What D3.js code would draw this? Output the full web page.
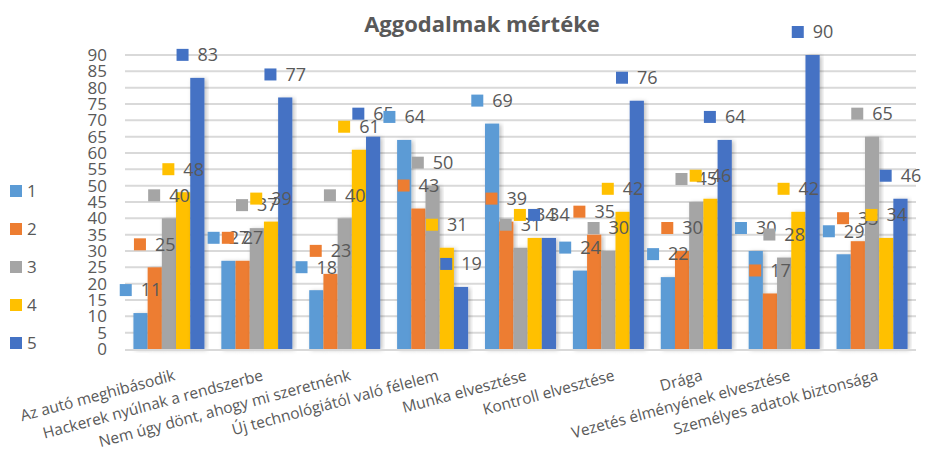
<!DOCTYPE html>
<html>
<head>
<meta charset="utf-8" />
<title>Aggodalmak mértéke</title>
<script src="https://d3js.org/d3.v7.min.js"></script>
<style>
    body {
        margin: 0;
        background-color: #ffffff;
    }
    text {
        font-family: 'Open Sans', sans-serif;
        fill: #595959;
    }
</style>
</head>
<body>
<svg id="chart"></svg>
<script>

    var categories = [
        "Az autó meghibásodik",
        "Hackerek nyúlnak a rendszerbe",
        "Nem úgy dönt, ahogy mi szeretnénk",
        "Új technológiától való félelem",
        "Munka elvesztése",
        "Kontroll elvesztése",
        "Drága",
        "Vezetés élményének elvesztése",
        "Személyes adatok biztonsága"
    ];
    var seriesNames = ["1", "2", "3", "4", "5"];
    var s1 = [11, 27, 18, 64, 69, 24, 22, 30, 29];
    var s2 = [25, 27, 23, 43, 39, 35, 30, 17, 33];
    var s3 = [40, 37, 40, 50, 31, 30, 45, 28, 65];
    var s4 = [48, 39, 61, 31, 34, 42, 46, 42, 34];
    var s5 = [83, 77, 65, 19, 34, 76, 64, 90, 46];
    var seriesValues = [s1, s2, s3, s4, s5];
    var colors = ["#5b9bd5", "#ed7d31", "#a5a5a5", "#ffc000", "#4472c4"];
    var yTicks = d3.range(0, 95, 5);

    var width = 926;
    var height = 451;
    var plot = { left: 125, right: 916, top: 55, bottom: 349 };

    var svg = d3.select("#chart")
        .attr("width", width)
        .attr("height", height);

    // soft shadow like the office chart
    var defs = svg.append("defs");
    defs.append("filter")
        .attr("id", "shadow")
        .attr("x", "-30%").attr("y", "-10%")
        .attr("width", "160%").attr("height", "120%")
        .append("feDropShadow")
        .attr("dx", 2).attr("dy", 1)
        .attr("stdDeviation", 2)
        .attr("flood-color", "#000")
        .attr("flood-opacity", 0.25);

    var x0 = d3.scaleBand()
        .domain(categories)
        .range([plot.left, plot.right])
        .padding(0);

    var step = x0.bandwidth();
    var groupW = step * 0.808;
    var x1 = d3.scaleBand()
        .domain(seriesNames)
        .range([(step - groupW) / 2, (step + groupW) / 2])
        .padding(0);

    var y = d3.scaleLinear()
        .domain([0, 90])
        .range([plot.bottom, plot.top]);

    // title
    svg.append("text")
        .attr("x", 482)
        .attr("y", 32)
        .attr("text-anchor", "middle")
        .attr("font-size", "22px")
        .attr("font-weight", 700)
        .text("Aggodalmak mértéke");

    // gridlines
    svg.append("g")
        .selectAll("line")
        .data(yTicks.filter(function(d) { return d > 0; }))
        .enter().append("line")
        .attr("x1", plot.left)
        .attr("x2", plot.right)
        .attr("y1", function(d) { return y(d); })
        .attr("y2", function(d) { return y(d); })
        .attr("stroke", "#d9d9d9")
        .attr("stroke-width", 2);

    // y axis labels
    var yAxis = d3.axisLeft(y)
        .tickValues(yTicks)
        .tickSize(0)
        .tickPadding(0);
    svg.append("g")
        .attr("transform", "translate(107,0)")
        .call(yAxis)
        .call(function(g) { g.select(".domain").remove(); })
        .selectAll("text")
        .attr("font-size", "17px")
        .attr("font-family", "'Open Sans', sans-serif")
        .attr("fill", "#595959");

    // bars
    var groups = svg.append("g")
        .selectAll("g")
        .data(categories)
        .enter().append("g")
        .attr("transform", function(d) { return "translate(" + x0(d) + ",0)"; });

    groups.selectAll("rect")
        .data(function(d, i) {
            return seriesNames.map(function(s, j) {
                return { series: s, idx: j, value: seriesValues[j][i] };
            });
        })
        .enter().append("rect")
        .attr("x", function(d) { return x1(d.series); })
        .attr("y", function(d) { return y(d.value); })
        .attr("width", x1.bandwidth())
        .attr("height", function(d) { return y(0) - y(d.value); })
        .attr("fill", function(d) { return colors[d.idx]; })
        .attr("filter", "url(#shadow)");

    // x axis line
    svg.append("line")
        .attr("x1", plot.left)
        .attr("x2", plot.right)
        .attr("y1", y(0) + 1)
        .attr("y2", y(0) + 1)
        .attr("stroke", "#d9d9d9")
        .attr("stroke-width", 2);

    // data labels with legend key
    var labels = svg.append("g");
    categories.forEach(function(c, i) {
        seriesNames.forEach(function(s, j) {
            var v = seriesValues[j][i];
            var cx = x0(c) + x1(s) + x1.bandwidth() / 2;
            var cy = y(v) - 23;
            var g = labels.append("g");
            var t = g.append("text")
                .attr("font-size", "18px")
                .attr("dy", "0.35em")
                .text(v);
            var tw = t.node().getComputedTextLength();
            var total = 12 + 9 + tw;
            var left = cx - total / 2;
            g.append("rect")
                .attr("x", left)
                .attr("y", cy - 6)
                .attr("width", 12)
                .attr("height", 12)
                .attr("fill", colors[j]);
            t.attr("x", left + 21).attr("y", cy);
        });
    });

    // x labels, rotated
    svg.append("g")
        .selectAll("text")
        .data(categories)
        .enter().append("text")
        .attr("text-anchor", "end")
        .attr("font-size", "15.5px")
        .attr("transform", function(d) {
            var cx = x0(d) + step / 2 + 7;
            return "translate(" + cx + ",380) rotate(-15)";
        })
        .text(function(d) { return d; });

    // legend
    var legend = svg.append("g")
        .selectAll("g")
        .data(seriesNames)
        .enter().append("g")
        .attr("transform", function(d, i) { return "translate(10," + (191 + i * 38) + ")"; });
    legend.append("rect")
        .attr("x", 0)
        .attr("y", -6)
        .attr("width", 12)
        .attr("height", 12)
        .attr("fill", function(d, i) { return colors[i]; });
    legend.append("text")
        .attr("x", 17)
        .attr("dy", "0.35em")
        .attr("font-size", "17px")
        .text(function(d) { return d; });

</script>
</body>
</html>
